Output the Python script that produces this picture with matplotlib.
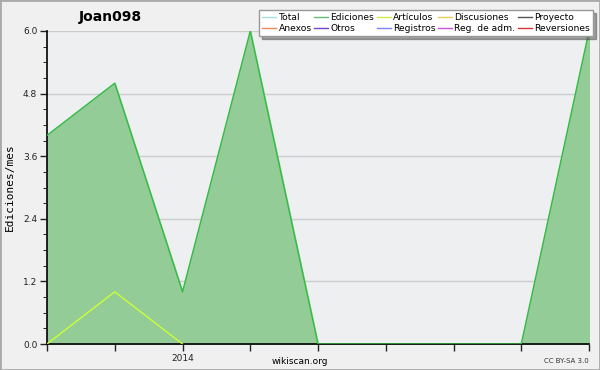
import numpy as np
import matplotlib
matplotlib.use("Agg")
import matplotlib.pyplot as plt
from matplotlib.lines import Line2D
from matplotlib.patches import Rectangle

# monthly edits (nov 2013 .. jul 2014)
months = ["2013-11", "2013-12", "2014-01", "2014-02", "2014-03",
          "2014-04", "2014-05", "2014-06", "2014-07"]
ediciones = [4, 5, 1, 6, 0, 0, 0, 0, 6]
articulos = [0, 1, 0]
tick_labels = ["", "", "2014", "", "", "", "", "", ""]

legend_names = ["Total", "Ediciones", "Artículos", "Discusiones", "Proyecto",
                "Anexos", "Otros", "Registros", "Reg. de adm.", "Reversiones"]
legend_colors = ["#aadddd", "#66bb77", "#ccee44", "#eecc55", "#555555",
                 "#ee8855", "#7744cc", "#7788ee", "#cc55dd", "#dd3333"]

plt.rcParams['font.family'] = ['DejaVu Sans']

fig = plt.figure(figsize=(6, 3.7), dpi=100, facecolor="#f0f0f0")
fig.patches.append(Rectangle((0, 0), 1, 1, transform=fig.transFigure,
                             fill=False, edgecolor="#aaaaaa", linewidth=2))
ax = fig.add_axes([47 / 600, 1 - 344 / 370, 542 / 600, 313 / 370])
ax.set_facecolor("#eeeff1")

x = np.arange(len(months))
ax.fill_between(x, ediciones, color="#94cc98", zorder=2)
ax.plot(x, ediciones, color="#33bb44", lw=1, zorder=3)
ax.plot(x[:len(articulos)], articulos, color="#ccff33", lw=1, zorder=4)

ax.set_xlim(0, len(months) - 1)
ax.set_ylim(0, 6)
ax.set_xticks(x)
ax.set_xticklabels(tick_labels, fontsize=6.5)
ax.set_yticks(np.arange(0, 6.01, 1.2))
ax.set_yticklabels([f"{v:.1f}" for v in np.arange(0, 6.01, 1.2)], fontsize=6.5)
ax.set_yticks(np.arange(0, 6.01, 0.3), minor=True)
ax.tick_params(axis='both', which='major', length=5, width=1, pad=2, colors="#222222")
ax.tick_params(axis='y', which='minor', length=3)
ax.grid(axis='y', color="#cccccc", lw=1, zorder=1)
ax.set_axisbelow(True)
for s in ["top", "right"]:
    ax.spines[s].set_visible(False)
ax.spines["left"].set_linewidth(1.2)
ax.spines["bottom"].set_linewidth(1.2)
ax.set_ylabel("Ediciones/mes", fontsize=8, labelpad=6, family="DejaVu Sans Mono")

fig.text(110 / 600, 1 - 17 / 370, "Joan098", fontsize=10, fontweight="bold",
         ha="center", va="center")
fig.text(300 / 600, 1 - 361 / 370, "wikiscan.org", fontsize=6.5, ha="center", va="center")
fig.text(589 / 600, 1 - 361 / 370, "CC BY-SA 3.0", fontsize=5, ha="right", va="center",
         color="#333333")

# legend, reordered so columns fill as in the reference
order = [0, 5, 1, 6, 2, 7, 3, 8, 4, 9]
handles = [Line2D([], [], color=legend_colors[i], lw=1) for i in order]
labels = [legend_names[i] for i in order]
leg = fig.legend(handles, labels, ncol=5, fontsize=6.6, loc="upper right",
                 bbox_to_anchor=(593 / 600, 1 - 10 / 370), frameon=True,
                 fancybox=False, shadow=True, handlelength=1.5, handletextpad=0.25,
                 columnspacing=0.3, labelspacing=0.2, borderpad=0.35,
                 borderaxespad=0)
leg.get_frame().set_edgecolor("#999999")
leg.get_frame().set_linewidth(1)

fig.savefig("out.png", dpi=100, facecolor=fig.get_facecolor())
